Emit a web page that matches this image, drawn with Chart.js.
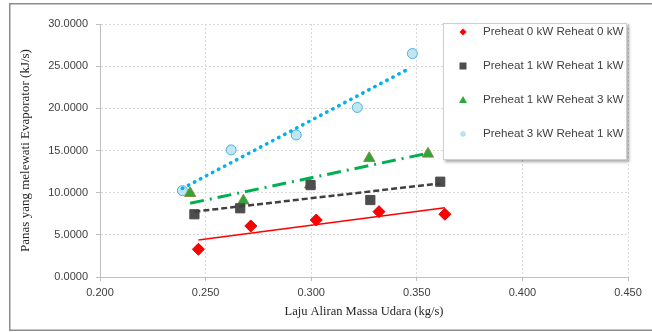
<!DOCTYPE html>
<html>
<head>
<meta charset="utf-8">
<script src="https://cdn.jsdelivr.net/npm/chart.js@4.4.1/dist/chart.umd.min.js"></script>
<style>
body{margin:0;background:#fff;}
#wrap{position:relative;width:652px;height:332px;}
</style>
</head>
<body>
<div id="wrap"><canvas id="evapChart" width="652" height="332"></canvas></div>
<script>
// series labels
let seriesNames = [
"Preheat 0 kW Reheat 0 kW",
"Preheat 1 kW Reheat 1 kW",
"Preheat 1 kW Reheat 3 kW",
"Preheat 3 kW Reheat 1 kW"
];

// mass flow (kg/s) and heat (kJ/s)
let xP0R0 = [0.2466, 0.2714, 0.3024, 0.3321, 0.3633];
let yP0R0 = [3.29, 6.05, 6.76, 7.75, 7.44];

let xP1R1 = [0.2447, 0.2664, 0.2997, 0.3280, 0.3611];
let yP1R1 = [7.44, 8.15, 10.90, 9.13, 11.30];

let xP1R3 = [0.2427, 0.2679, 0.2995, 0.3275, 0.3553];
let yP1R3 = [9.93, 9.05, 10.95, 14.08, 14.60];

let xP3R1 = [0.2390, 0.2621, 0.2929, 0.3218, 0.3479];
let yP3R1 = [10.24, 15.07, 16.84, 20.10, 26.50];

// trend line end points
let trendX = [[0.2466, 0.3633], [0.2447, 0.3611], [0.2427, 0.3553], [0.2390, 0.3470]];
let trendY = [[4.39, 8.22], [7.75, 11.10], [8.74, 14.68], [10.50, 24.80]];

// axis ticks
let xTicks = [0.200, 0.250, 0.300, 0.350, 0.400, 0.450];
let yTicks = [0, 5, 10, 15, 20, 25, 30];


function pts(xs, ys){
return xs.map(function(x, i){ return {x:x, y:ys[i]}; });
}

const markerStyles = [
{pointStyle:"rectRot", radius:6, bg:"#ff0000", border:"#e00000"},
{pointStyle:"rect", radius:6.5, bg:"#4d4d4d", border:"#4d4d4d"},
{pointStyle:"triangle", radius:6.5, bg:"#2aa83a", border:"#8f8a3c"},
{pointStyle:"circle", radius:5, bg:"#bfe6f2", border:"#4fb3d9"}
];

const trendStyles = [
{color:"#ff0000", width:1.5, dash:[], cap:"butt"},
{color:"#404040", width:2.5, dash:[6,3], cap:"butt"},
{color:"#00b050", width:3, dash:[14,6,2,6], cap:"butt"},
{color:"#00b0f0", width:3.5, dash:[0.5,6.3], cap:"round"}
];

let datasets = [];

seriesNames.forEach(function(name, i){
datasets.push({
label:name,
data:pts([xP0R0,xP1R1,xP1R3,xP3R1][i], [yP0R0,yP1R1,yP1R3,yP3R1][i]),
pointStyle:markerStyles[i].pointStyle,
pointRadius:markerStyles[i].radius,
pointBackgroundColor:markerStyles[i].bg,
pointBorderColor:markerStyles[i].border,
pointBorderWidth:1,
showLine:false,
order:2
});
});

seriesNames.forEach(function(name, i){
datasets.push({
label:"trend " + name,
data:pts(trendX[i], trendY[i]),
showLine:true,
pointRadius:0,
borderColor:trendStyles[i].color,
borderWidth:trendStyles[i].width,
borderDash:trendStyles[i].dash,
borderCapStyle:trendStyles[i].cap,
fill:false,
order:1
});
});


// outer frame (left, top, bottom visible in the picture)
const framePlugin = {
id:"frame",
beforeDraw(chart){
const ctx = chart.ctx;
ctx.save();
ctx.fillStyle = "#fff";
ctx.fillRect(0, 0, chart.width, chart.height);
ctx.strokeStyle = "#8c8c8c";
ctx.lineWidth = 1.5;
ctx.beginPath();
ctx.moveTo(652, 3.75);
ctx.lineTo(9.75, 3.75);
ctx.lineTo(9.75, 330.25);
ctx.lineTo(652, 330.25);
ctx.stroke();
ctx.restore();
}
};


// legend box drawn on top of the plot, like the original
const legendPlugin = {
id:"boxLegend",
afterDraw(chart){
const ctx = chart.ctx;
const bx = 443, by = 23, bw = 184, bh = 137;
ctx.save();
ctx.shadowColor = "rgba(0,0,0,0.35)";
ctx.shadowBlur = 3;
ctx.shadowOffsetX = 2;
ctx.shadowOffsetY = 2;
ctx.fillStyle = "#fff";
ctx.fillRect(bx, by, bw, bh);
ctx.restore();

ctx.save();
ctx.strokeStyle = "#d0d0d0";
ctx.lineWidth = 1;
ctx.strokeRect(bx + 0.5, by + 0.5, bw - 1, bh - 1);

ctx.font = "11.6px 'Liberation Sans', Arial, sans-serif";
ctx.textBaseline = "middle";
ctx.fillStyle = "#404040";

seriesNames.forEach(function(name, i){
const cy = 32 + i * 34;
const mx = 463;
const m = markerStyles[i];
ctx.fillStyle = m.bg;
ctx.beginPath();
if(i === 0){
ctx.moveTo(mx, cy - 3.5); ctx.lineTo(mx + 3.5, cy); ctx.lineTo(mx, cy + 3.5); ctx.lineTo(mx - 3.5, cy);
ctx.closePath(); ctx.fill();
}
else if(i === 1){
ctx.fillRect(mx - 3.5, cy - 3.5, 7, 7);
}
else if(i === 2){
ctx.moveTo(mx, cy - 4); ctx.lineTo(mx + 4, cy + 3); ctx.lineTo(mx - 4, cy + 3);
ctx.closePath(); ctx.fill();
}
else {
ctx.arc(mx, cy, 2.3, 0, Math.PI * 2); ctx.fill();
ctx.strokeStyle = "#9fd3e6"; ctx.lineWidth = 0.8; ctx.stroke();
}
ctx.fillStyle = "#404040";
ctx.fillText(name, 483, cy);
});
ctx.restore();
}
};


const tickFont = {family:"'Liberation Sans', Arial, sans-serif", size:11};
const titleFont = {family:"'Liberation Serif', 'Times New Roman', serif", size:13};

const evapChart =
new Chart(
document.getElementById("evapChart"),
{
type:"scatter",
data:{datasets:datasets},
options:{
responsive:false,
animation:false,
layout:{padding:{left:10, right:24, top:24, bottom:0}},
plugins:{
legend:{display:false},
tooltip:{enabled:false}
},
scales:{
x:{
type:"linear",
min:xTicks[0],
max:xTicks[xTicks.length-1],
afterBuildTicks(scale){
scale.ticks = xTicks.map(function(v){ return {value:v}; });
},
afterFit(scale){ scale.height = 55; },
ticks:{
font:tickFont,
color:"#404040",
padding:5,
maxRotation:0,
callback:function(v){ return Number(v).toFixed(3); }
},
grid:{
color:"#d9d9d9",
tickLength:4,
tickColor:"#bfbfbf"
},
border:{color:"#bfbfbf", dash:[2,2], display:true},
title:{
display:true,
text:"Laju Aliran Massa Udara (kg/s)",
font:{family:"'Liberation Serif', 'Times New Roman', serif", size:12.5},
color:"#262626",
padding:{top:4, bottom:13}
}
},
y:{
type:"linear",
min:yTicks[0],
max:yTicks[yTicks.length-1],
afterBuildTicks(scale){
scale.ticks = yTicks.map(function(v){ return {value:v}; });
},
afterFit(scale){ scale.width = 90; },
ticks:{
font:tickFont,
color:"#404040",
padding:8,
callback:function(v){ return Number(v).toFixed(4); }
},
grid:{
color:"#d9d9d9",
tickLength:4,
tickColor:"#bfbfbf"
},
border:{color:"#bfbfbf", dash:[2,2]},
title:{
display:true,
text:"Panas yang melewati Evaporator (kJ/s)",
font:titleFont,
color:"#262626",
padding:{top:8, bottom:0}
}
}
}
},
plugins:[framePlugin, legendPlugin]
});
</script>
</body>
</html>
